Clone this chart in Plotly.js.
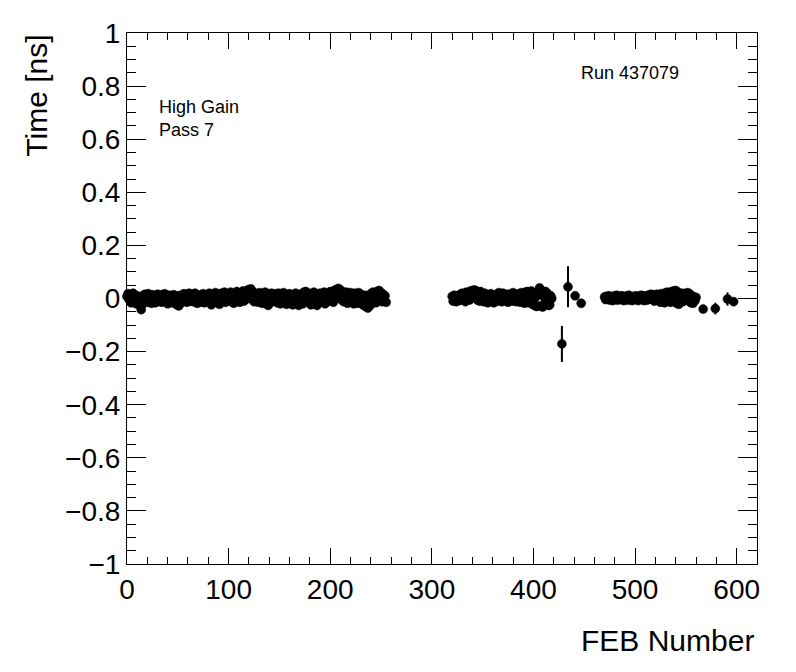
<!DOCTYPE html>
<html>
<head>
<meta charset="utf-8">
<script src="https://cdn.plot.ly/plotly-3.0.1.min.js"></script>
<style>html,body{margin:0;padding:0;background:#fff;}#chart{width:796px;height:672px;}</style>
</head>
<body>
<div id="chart"></div>
<script>
// FEB timing offsets [ns], consecutive FEB numbers starting at the given first FEB
const band1FirstFeb = 0;
const band1Time = [
  0.008, 0.018, -0.004, 0.012, -0.016, 0.002, 0.020, -0.010, 0.006, -0.020, 0.010, -0.006, 0.004, -0.028, -0.042, -0.022,
  0.012, -0.004, 0.016, -0.014, 0.006, 0.018, -0.008, 0.002, -0.018, 0.014, -0.006, 0.010, -0.016, 0.004, 0.016, -0.010,
  0.002, 0.014, -0.014, 0.008, -0.004, 0.018, -0.012, 0.006, -0.020, 0.002, 0.012, -0.016, 0.008, -0.002, 0.014, -0.018,
  0.004, -0.024, 0.010, -0.028, -0.006, 0.012, -0.014, 0.004, 0.018, -0.008, 0.010, -0.014, 0.002, 0.020, -0.010, 0.006,
  0.016, -0.012, 0.004, 0.020, -0.008, -0.018, 0.010, 0.000, -0.014, 0.014, -0.004, 0.018, -0.016, 0.006, 0.012, -0.010,
  0.002, 0.020, -0.012, -0.024, 0.008, 0.016, -0.006, 0.022, -0.014, 0.004, 0.012, -0.022, 0.000, 0.020, -0.010, 0.008,
  0.024, -0.014, 0.006, 0.018, -0.008, 0.002, 0.024, -0.012, 0.010, -0.018, 0.016, 0.004, 0.026, -0.010, 0.012, -0.014,
  0.022, 0.004, 0.028, -0.010, 0.014, -0.004, 0.030, 0.006, 0.034, 0.016, 0.036, 0.000, 0.024, -0.012, 0.018, 0.002,
  0.020, -0.014, 0.008, 0.022, -0.006, -0.018, 0.014, 0.000, 0.024, -0.020, 0.004, -0.026, 0.016, -0.008, 0.020, -0.012,
  0.006, 0.018, -0.010, 0.002, -0.016, 0.020, -0.004, -0.020, 0.012, 0.000, 0.022, -0.014, 0.006, -0.022, 0.014, -0.006,
  0.018, -0.014, 0.004, -0.024, 0.010, -0.004, 0.020, -0.018, 0.006, -0.026, 0.012, -0.008, 0.018, -0.020, 0.024, 0.000,
  0.026, -0.012, 0.010, 0.020, -0.006, -0.024, 0.014, -0.014, 0.024, 0.002, 0.016, -0.026, 0.006, -0.016, 0.020, -0.008,
  0.012, -0.004, 0.024, -0.020, 0.008, -0.012, 0.020, 0.002, 0.026, -0.008, 0.016, -0.014, 0.030, 0.004, 0.034, 0.014,
  0.038, 0.010, 0.032, -0.004, 0.026, -0.012, 0.018, 0.002, 0.024, -0.018, 0.010, -0.008, 0.022, -0.014, 0.006, -0.020,
  0.020, -0.006, 0.012, -0.018, 0.022, 0.000, 0.016, -0.020, 0.006, -0.026, 0.012, -0.030, 0.004, -0.036, 0.010, -0.028,
  0.018, -0.010, 0.024, 0.002, 0.020, -0.016, 0.026, -0.004, 0.030, 0.010, 0.022, -0.012, 0.016, -0.002, 0.010, -0.014
];

const band2FirstFeb = 320;
const band2Time = [
  0.008, -0.010, 0.012, 0.000, -0.012, 0.010, 0.002, -0.008, 0.016, -0.004, 0.020, 0.002, 0.010, -0.012, 0.024, 0.004,
  0.018, -0.006, 0.028, 0.008, 0.030, 0.012, 0.032, 0.002, 0.028, -0.006, 0.020, -0.010, 0.026, 0.004, 0.016, -0.012,
  0.020, 0.000, 0.014, -0.016, 0.006, -0.008, 0.018, -0.012, 0.004, -0.016, 0.012, 0.000, 0.016, -0.010, 0.022, 0.002,
  0.014, -0.012, 0.020, 0.000, 0.010, -0.008, 0.016, -0.014, 0.006, 0.002, 0.018, -0.010, 0.022, 0.004, 0.014, -0.012,
  0.008, 0.000, 0.018, -0.014, 0.022, -0.006, 0.014, -0.018, 0.024, 0.004, 0.026, -0.016, 0.018, -0.008, 0.028, -0.022,
  0.014, -0.026, 0.004, -0.030, 0.024, -0.028, 0.040, 0.020, 0.030, -0.032, 0.008, -0.018, 0.026, -0.006, 0.018, -0.026,
  -0.024, 0.010, 0.000
];

const band3FirstFeb = 470;
const band3Time = [
  0.006, -0.004, 0.008, 0.000, 0.010, -0.006, 0.004, 0.008, -0.008, 0.002, 0.010, -0.004, 0.012, -0.006, 0.004, 0.008,
  -0.004, 0.010, 0.000, -0.008, 0.006, 0.002, 0.010, -0.006, 0.012, 0.000, 0.006, -0.008, 0.008, 0.002, -0.004, 0.010,
  0.004, -0.008, 0.008, 0.000, 0.012, -0.004, 0.006, -0.008, 0.010, 0.002, -0.006, 0.008, 0.014, -0.002, 0.016, 0.004,
  0.008, -0.010, 0.014, 0.000, 0.016, -0.008, 0.010, -0.014, 0.018, 0.002, 0.014, -0.016, 0.022, -0.004, 0.024, -0.010,
  0.016, -0.014, 0.026, 0.004, 0.028, -0.008, 0.030, -0.018, 0.024, -0.022, 0.018, -0.006, 0.020, -0.012, 0.014, 0.000,
  0.020, -0.004, 0.022, -0.010, 0.016, -0.016, 0.010, -0.018, 0.006, -0.008, 0.004
];
const bandTimeError = 0.004;

// isolated FEBs with visible error bars
const isolatedFeb   = [428, 434, 441, 447, 567, 579, 591, 597];
const isolatedTime  = [-0.171, 0.044, 0.010, -0.018, -0.040, -0.038, -0.002, -0.012];
const isolatedError = [0.068, 0.077, 0.008, 0.006, 0.006, 0.022, 0.025, 0.016];

const xTitle = 'FEB Number';
const yTitle = 'Time [ns]';
const labels = ['High Gain', 'Pass 7', 'Run 437079'];

const FONT = 'Liberation Sans, Arial, Helvetica, sans-serif';
const markerStyle = {color: '#000', size: 9, symbol: 'circle', line: {color: '#000', width: 0.5}};
const errStyle = {color: '#000', thickness: 2, width: 0, visible: true};

function band(first, ys) {
  return {
    type: 'scatter', mode: 'markers', x0: first, dx: 1, y: ys,
    marker: markerStyle, cliponaxis: false, showlegend: false,
    error_y: Object.assign({type: 'constant', value: bandTimeError}, errStyle)
  };
}

const traces = [
  band(band1FirstFeb, band1Time),
  band(band2FirstFeb, band2Time),
  band(band3FirstFeb, band3Time),
  {
    type: 'scatter', mode: 'markers', x: isolatedFeb, y: isolatedTime,
    marker: markerStyle, cliponaxis: false, showlegend: false,
    error_y: Object.assign({type: 'data', array: isolatedError}, errStyle)
  }
];

const axisCommon = {
  showline: true, linecolor: '#000', linewidth: 1, mirror: 'allticks',
  ticks: 'inside', tickcolor: '#000', tickwidth: 1,
  showgrid: false, zeroline: false,
  tickfont: {family: FONT, size: 28, color: '#000'}
};

const layout = {
  width: 796, height: 672,
  margin: {l: 127, r: 39, t: 33, b: 108, pad: 0},
  paper_bgcolor: '#fff', plot_bgcolor: '#fff',
  font: {family: FONT, color: '#000'},
  xaxis: Object.assign({}, axisCommon, {
    range: [0, 620], tick0: 0, dtick: 100, ticklen: 16,
    minor: {dtick: 20, ticklen: 7, ticks: 'inside', tickcolor: '#000', tickwidth: 1, showgrid: false}
  }),
  yaxis: Object.assign({}, axisCommon, {
    range: [-1, 1], tick0: 0, dtick: 0.2, ticklen: 19,
    minor: {dtick: 0.05, ticklen: 9, ticks: 'inside', tickcolor: '#000', tickwidth: 1, showgrid: false}
  }),
  annotations: [
    {text: xTitle, xref: 'paper', yref: 'paper', x: 0.998, y: -0.144, xanchor: 'right', yanchor: 'middle',
     showarrow: false, font: {family: FONT, size: 30, color: '#000'}},
    {text: yTitle, xref: 'paper', yref: 'paper', x: -0.145, y: 1.0, xanchor: 'center', yanchor: 'top',
     textangle: -90, showarrow: false, font: {family: FONT, size: 30, color: '#000'}},
    {text: labels[0], xref: 'paper', yref: 'paper', x: 0.0475, y: 0.8597, xanchor: 'left', yanchor: 'middle',
     showarrow: false, font: {family: FONT, size: 18, color: '#000'}},
    {text: labels[1], xref: 'paper', yref: 'paper', x: 0.0475, y: 0.8164, xanchor: 'left', yanchor: 'middle',
     showarrow: false, font: {family: FONT, size: 18, color: '#000'}},
    {text: labels[2], xref: 'paper', yref: 'paper', x: 0.717, y: 0.9247, xanchor: 'left', yanchor: 'middle',
     showarrow: false, font: {family: FONT, size: 18, color: '#000'}}
  ]
};

Plotly.newPlot('chart', traces, layout, {displayModeBar: false, staticPlot: true});
</script>
</body>
</html>
